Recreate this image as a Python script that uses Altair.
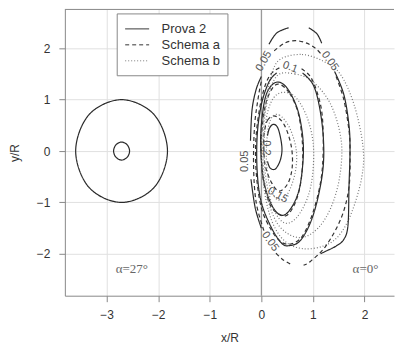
import altair as alt
import pandas as pd

# ---- data ----
schemes = ["Prova 2", "Schema a", "Schema b"]

# alpha = 27 deg rotor (all schemes coincide)
circle_big = [(-2.71, 1.0), (-2.08, 0.71), (-1.82, 0.0), (-2.08, -0.71), (-2.71, -1.0),
              (-3.34, -0.71), (-3.60, 0.0), (-3.34, 0.71)]
circle_small = [(-2.71, 0.175), (-2.60, 0.12), (-2.555, 0.0), (-2.60, -0.12), (-2.71, -0.175),
                (-2.82, -0.12), (-2.865, 0.0), (-2.82, 0.12)]

# Prova 2 (solid)
p20 = [(0.12, 0.30), (0.16, 0.45), (0.24, 0.52), (0.32, 0.45), (0.38, 0.22), (0.40, 0.0),
       (0.36, -0.20), (0.27, -0.35), (0.17, -0.33), (0.12, -0.20)]
p15 = [(0.0, 0.5), (0.08, 1.05), (0.22, 1.3), (0.38, 1.33), (0.55, 1.15), (0.72, 0.75),
       (0.81, 0.2), (0.80, -0.3), (0.72, -0.8), (0.55, -1.15), (0.38, -1.25), (0.2, -1.05),
       (0.05, -0.6), (-0.01, 0.0)]
p10 = [(0.8, 1.52), (1.0, 1.3), (1.12, 0.9), (1.2, 0.3), (1.2, -0.3), (1.1, -0.9),
       (0.95, -1.4), (0.75, -1.75), (0.55, -1.84), (0.4, -1.8), (0.2, -1.5), (0.0, -1.0),
       (-0.08, -0.4), (-0.08, 0.3), (0.0, 0.9), (0.15, 1.35), (0.3, 1.52)]
p05_a = [(0.15, 2.08), (0.3, 2.3), (0.53, 2.4)]
p05_b = [(0.92, 2.4), (1.08, 2.28), (1.17, 2.1)]
p05_c = [(1.42, 1.55), (1.6, 1.1), (1.7, 0.5), (1.72, 0.0), (1.70, -0.7), (1.68, -1.45),
         (1.6, -1.72), (1.45, -1.85), (1.25, -1.95), (1.15, -2.0)]
p05_d = [(0.0, -1.5), (-0.12, -1.1), (-0.2, -0.55)]
p05_e = [(-0.21, 0.2), (-0.18, 0.8), (-0.1, 1.2), (0.0, 1.45)]

# Schema a (dashed)
a20 = [(0.05, 0.3), (0.12, 0.6), (0.27, 0.68), (0.45, 0.5), (0.58, 0.1), (0.6, -0.3),
       (0.52, -0.62), (0.35, -0.78), (0.2, -0.62), (0.08, -0.3), (0.05, 0.0)]
a15 = [(0.35, 1.3), (0.55, 1.12), (0.72, 0.72), (0.8, 0.1), (0.78, -0.5), (0.68, -0.95),
       (0.5, -1.25), (0.3, -1.2), (0.15, -1.0), (0.03, -0.5), (0.0, 0.2), (0.07, 0.85),
       (0.2, 1.2)]
a10 = [(0.78, 1.6), (0.95, 1.45), (1.08, 1.15), (1.18, 0.7), (1.2, 0.0), (1.15, -0.6),
       (1.0, -1.2), (0.8, -1.65), (0.6, -1.8), (0.4, -1.78), (0.2, -1.55), (0.0, -1.1),
       (-0.1, -0.4), (-0.1, 0.3), (0.0, 1.0), (0.15, 1.45), (0.35, 1.62)]
a05_a = [(0.25, 1.95), (0.45, 2.1), (0.66, 2.15), (0.88, 2.1), (1.05, 2.0), (1.15, 1.9)]
a05_b = [(1.45, 1.45), (1.6, 1.0), (1.7, 0.4), (1.72, 0.0), (1.7, -0.7), (1.55, -1.3),
         (1.25, -1.85), (0.95, -2.15), (0.82, -2.22)]
a05_c = [(0.56, -2.2), (0.4, -2.1), (0.25, -1.95)]
a05_d = [(0.05, -1.55), (-0.1, -1.0), (-0.15, -0.3), (-0.13, 0.5), (-0.05, 1.1), (0.0, 1.35)]

# Schema b (dotted)
b20 = [(0.2, 0.65), (0.35, 0.7), (0.55, 0.45), (0.68, 0.0), (0.65, -0.45), (0.5, -0.85),
       (0.32, -0.95), (0.17, -0.7), (0.1, -0.2), (0.12, 0.35)]
b15 = [(0.3, 1.1), (0.6, 1.1), (0.85, 0.75), (1.0, 0.2), (1.0, -0.4), (0.9, -0.9),
       (0.68, -1.3), (0.45, -1.4), (0.25, -1.15), (0.1, -0.6), (0.05, 0.1), (0.12, 0.75)]
b10 = [(0.3, 1.46), (0.65, 1.5), (1.0, 1.35), (1.35, 0.9), (1.55, 0.2), (1.52, -0.5),
       (1.35, -1.1), (1.1, -1.5), (0.8, -1.68), (0.5, -1.6), (0.25, -1.3), (0.08, -0.7),
       (0.03, 0.1), (0.1, 0.9)]
b05 = [(0.37, 1.79), (0.79, 1.88), (1.2, 1.75), (1.53, 1.5), (1.8, 0.9), (1.97, 0.1),
       (1.95, -0.5), (1.75, -1.2), (1.5, -1.65), (1.2, -1.85), (0.8, -1.9), (0.45, -1.75),
       (0.2, -1.35), (0.05, -0.7), (0.0, 0.2), (0.1, 1.0), (0.2, 1.5)]

closed_curves = [
    ("c_big", "Prova 2", circle_big), ("c_small", "Prova 2", circle_small),
    ("p15", "Prova 2", p15), ("a20", "Schema a", a20), ("a15", "Schema a", a15),
    ("b20", "Schema b", b20), ("b15", "Schema b", b15), ("b10", "Schema b", b10),
    ("b05", "Schema b", b05),
]
open_curves = [
    ("p20", "Prova 2", p20), ("p10", "Prova 2", p10), ("p05a", "Prova 2", p05_a),
    ("p05b", "Prova 2", p05_b), ("p05c", "Prova 2", p05_c), ("p05d", "Prova 2", p05_d),
    ("p05e", "Prova 2", p05_e), ("a10", "Schema a", a10), ("a05a", "Schema a", a05_a),
    ("a05b", "Schema a", a05_b), ("a05c", "Schema a", a05_c), ("a05d", "Schema a", a05_d),
]

label_text = ["0.05", "0.05", "0.05", "0.05", "0.1", "0.15", "0.2"]
label_x = [0.05, 1.33, 0.17, -0.31, 0.56, 0.32, 0.10]
label_y = [1.75, 1.75, -1.76, -0.2, 1.63, -0.86, 0.06]
label_angle = [300, 55, 55, 270, 20, 30, 90]

note_text = ["α=27°", "α=0°"]
note_x = [-2.51, 2.02]
note_y = [-2.29, -2.29]

x_ticks = [-3, -2, -1, 0, 1, 2]
y_ticks = [-2, -1, 0, 1, 2]


def to_rows(curves):
    rows = []
    for name, sch, pts in curves:
        for i, (x, y) in enumerate(pts):
            rows.append({"curve": name, "scheme": sch, "ord": i, "x": x, "y": y})
    return pd.DataFrame(rows)


df_closed = to_rows(closed_curves)
df_open = to_rows(open_curves)
df_labels = pd.DataFrame({"t": label_text, "x": label_x, "y": label_y, "a": label_angle})
df_notes = pd.DataFrame({"t": note_text, "x": note_x, "y": note_y})

W, H = 330, 287
XDOM = [-3.81, -3.81 + W / 51.7]
YDOM = [-2.816, 2.757]

xenc = alt.X("x:Q", scale=alt.Scale(domain=XDOM, nice=False, zero=False),
             axis=alt.Axis(values=x_ticks, format="d", title="x/R", grid=True))
yenc = alt.Y("y:Q", scale=alt.Scale(domain=YDOM, nice=False, zero=False),
             axis=alt.Axis(values=y_ticks, format="d", title="y/R", grid=True))

color = alt.Color("scheme:N", scale=alt.Scale(domain=schemes, range=["#2a2a2a", "#333333", "#7a7a7a"]),
                  legend=alt.Legend(title=None))
dash = alt.StrokeDash("scheme:N", scale=alt.Scale(domain=schemes, range=[[1, 0], [4, 3], [1, 2]]),
                      legend=alt.Legend(title=None))

closed_layer = alt.Chart(df_closed).mark_line(interpolate="cardinal-closed", strokeWidth=1.2, clip=True).encode(
    x=xenc, y=yenc, color=color, strokeDash=dash, detail="curve:N", order="ord:Q")
open_layer = alt.Chart(df_open).mark_line(interpolate="cardinal", strokeWidth=1.2, clip=True).encode(
    x=xenc, y=yenc, color=color, strokeDash=dash, detail="curve:N", order="ord:Q")

zero_rule = alt.Chart(pd.DataFrame({"x": [0]})).mark_rule(color="#888888", strokeWidth=1).encode(x="x:Q")
top_rule = alt.Chart(pd.DataFrame({"x": [0]})).mark_rule(color="#888888", strokeWidth=1).encode(
    x=alt.value(0), x2=alt.value(W), y=alt.value(0))

labels = alt.Chart(df_labels).mark_text(font="Liberation Sans", fontSize=11, color="#555555").encode(
    x="x:Q", y="y:Q", text="t:N", angle=alt.Angle("a:Q", scale=None))
notes = alt.Chart(df_notes).mark_text(font="Liberation Serif", fontSize=13, color="#666666").encode(
    x="x:Q", y="y:Q", text="t:N")

chart = alt.layer(zero_rule, top_rule, closed_layer, open_layer, labels, notes).properties(
    width=W, height=H, padding=0
).configure_view(stroke=None).configure_axis(
    domainColor="#888888", tickColor="#888888", gridColor="#e0e0e0", tickSize=6,
    labelFont="Liberation Sans", labelFontSize=12, labelColor="#333333",
    titleFont="Liberation Sans", titleFontSize=12, titleFontWeight="normal", titleColor="#333333",
).configure_axisY(labelPadding=9, titlePadding=15).configure_axisX(labelPadding=8, titlePadding=12
).configure_legend(
    orient="none", legendX=52, legendY=4, strokeColor="#888888", fillColor="white", padding=7,
    symbolType="M-1.5,0H1.5", symbolSize=256, symbolStrokeWidth=1, symbolOffset=5,
    labelFont="Liberation Sans", labelFontSize=13, labelColor="#333333", rowPadding=0, labelOffset=16,
)

chart.save("out.html", embed_options={"renderer": "svg", "actions": False})
